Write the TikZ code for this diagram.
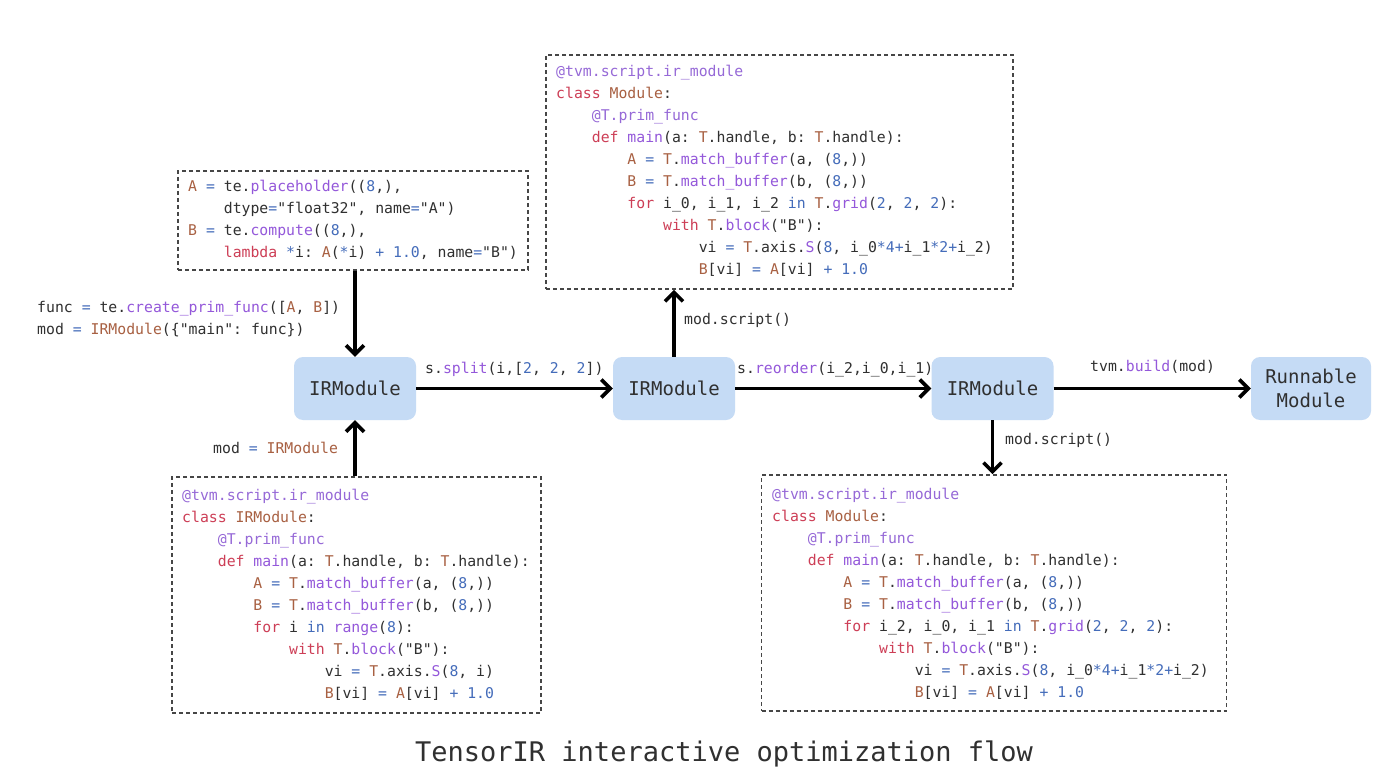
\documentclass[tikz,border=0pt]{standalone}
\usepackage{fontspec}
\usetikzlibrary{arrows.meta}
\newfontfamily\codefont{DejaVu Sans Mono}
\definecolor{kwred}{RGB}{205,62,86}
\definecolor{fnpur}{RGB}{148,88,218}
\definecolor{decpur}{RGB}{150,105,215}
\definecolor{tybrown}{RGB}{168,96,66}
\definecolor{nublue}{RGB}{68,108,186}
\definecolor{txt}{RGB}{48,48,48}
\definecolor{nodefill}{RGB}{197,219,245}
\definecolor{dashgray}{RGB}{70,70,70}
\newcommand\Kw[1]{\textcolor{kwred}{#1}}
\newcommand\Fn[1]{\textcolor{fnpur}{#1}}
\newcommand\De[1]{\textcolor{decpur}{#1}}
\newcommand\Ty[1]{\textcolor{tybrown}{#1}}
\newcommand\Nu[1]{\textcolor{nublue}{#1}}
\newcommand\ind[1]{\hspace*{#1\fontcharwd\font`x}}
\newcommand\fstrut{\rule{0pt}{12pt}}
\tikzset{
  codebox/.style={draw=dashgray, dash pattern=on 4pt off 3pt, line width=1.6pt, inner sep=0pt},
  codetext/.style={anchor=north west, inner sep=0pt, align=left, text=txt,
    font=\codefont\fontsize{14.8}{22}\selectfont\frenchspacing},
  lbl/.style={anchor=base west, inner sep=0pt, text=txt,
    font=\codefont\fontsize{14.8}{22}\selectfont\frenchspacing},
  irmod/.style={fill=nodefill, rounded corners=9pt, minimum width=122pt, minimum height=63pt,
    inner sep=0pt, align=center, text=txt, font=\codefont\fontsize{19}{24}\selectfont},
  arr/.style={line width=3.6pt, -{Straight Barb[length=9pt,width=18pt]}},
}
\begin{document}
\begin{tikzpicture}[x=1pt,y=-1pt]
\useasboundingbox[fill=white] (0,0) rectangle (1394,778);

% dashed code boxes
\node[codebox, minimum width=350pt, minimum height=99pt] (boxA) at (353,220.5) {};
\node[codebox, minimum width=467pt, minimum height=234pt] (boxT) at (779.5,172) {};
\node[codebox, minimum width=369pt, minimum height=236pt] (boxB1) at (356.5,595) {};
\node[codebox, minimum width=465pt, minimum height=236pt] (boxB2) at (994,593) {};

% code texts
\node[codetext] (codeA) at (188,179) {\fstrut\Ty{A} \Nu{=} te.\Fn{placeholder}((\Nu{8},),\\
\ind{4}dtype\Nu{=}"float32", name\Nu{=}"A")\\
\Ty{B} \Nu{=} te.\Fn{compute}((\Nu{8},),\\
\ind{4}\Kw{lambda} \Nu{*}i: \Ty{A}(\Nu{*}i) \Nu{+ 1.0}, name\Nu{=}"B")};

\node[codetext] (codeF) at (37,300) {\fstrut func \Nu{=} te.\Fn{create\_prim\_func}([\Ty{A}, \Ty{B}])\\
mod \Nu{=} \Ty{IRModule}(\{"main": func\})};

\node[codetext] (codeT) at (556,64) {\fstrut\De{@tvm.script.ir\_module}\\
\Kw{class} \Ty{Module}:\\
\ind{4}\De{@T.prim\_func}\\
\ind{4}\Kw{def} \Fn{main}(a: \Ty{T}.handle, b: \Ty{T}.handle):\\
\ind{8}\Ty{A} \Nu{=} \Ty{T}.\Fn{match\_buffer}(a, (\Nu{8},))\\
\ind{8}\Ty{B} \Nu{=} \Ty{T}.\Fn{match\_buffer}(b, (\Nu{8},))\\
\ind{8}\Kw{for} i\_0, i\_1, i\_2 \Nu{in} \Ty{T}.\Fn{grid}(\Nu{2}, \Nu{2}, \Nu{2}):\\
\ind{12}\Kw{with} \Ty{T}.\Fn{block}("B"):\\
\ind{16}vi \Nu{=} \Ty{T}.axis.\Fn{S}(\Nu{8}, i\_0\Nu{*4+}i\_1\Nu{*2+}i\_2)\\
\ind{16}\Ty{B}[vi] \Nu{=} \Ty{A}[vi] \Nu{+ 1.0}};

\node[codetext] (codeB1) at (182,488) {\fstrut\De{@tvm.script.ir\_module}\\
\Kw{class} \Ty{IRModule}:\\
\ind{4}\De{@T.prim\_func}\\
\ind{4}\Kw{def} \Fn{main}(a: \Ty{T}.handle, b: \Ty{T}.handle):\\
\ind{8}\Ty{A} \Nu{=} \Ty{T}.\Fn{match\_buffer}(a, (\Nu{8},))\\
\ind{8}\Ty{B} \Nu{=} \Ty{T}.\Fn{match\_buffer}(b, (\Nu{8},))\\
\ind{8}\Kw{for} i \Nu{in} \Fn{range}(\Nu{8}):\\
\ind{12}\Kw{with} \Ty{T}.\Fn{block}("B"):\\
\ind{16}vi \Nu{=} \Ty{T}.axis.\Fn{S}(\Nu{8}, i)\\
\ind{16}\Ty{B}[vi] \Nu{=} \Ty{A}[vi] \Nu{+ 1.0}};

\node[codetext] (codeB2) at (772,487) {\fstrut\De{@tvm.script.ir\_module}\\
\Kw{class} \Ty{Module}:\\
\ind{4}\De{@T.prim\_func}\\
\ind{4}\Kw{def} \Fn{main}(a: \Ty{T}.handle, b: \Ty{T}.handle):\\
\ind{8}\Ty{A} \Nu{=} \Ty{T}.\Fn{match\_buffer}(a, (\Nu{8},))\\
\ind{8}\Ty{B} \Nu{=} \Ty{T}.\Fn{match\_buffer}(b, (\Nu{8},))\\
\ind{8}\Kw{for} i\_2, i\_0, i\_1 \Nu{in} \Ty{T}.\Fn{grid}(\Nu{2}, \Nu{2}, \Nu{2}):\\
\ind{12}\Kw{with} \Ty{T}.\Fn{block}("B"):\\
\ind{16}vi \Nu{=} \Ty{T}.axis.\Fn{S}(\Nu{8}, i\_0\Nu{*4+}i\_1\Nu{*2+}i\_2)\\
\ind{16}\Ty{B}[vi] \Nu{=} \Ty{A}[vi] \Nu{+ 1.0}};

% module nodes
\node[irmod] (ir1) at (355,388.5) {IRModule};
\node[irmod] (ir2) at (674,388.5) {IRModule};
\node[irmod] (ir3) at (992.5,388.5) {IRModule};
\node[irmod, minimum width=120pt] (run) at (1311,388.5) {Runnable\\Module};

% connectors
\draw[arr] (ir1.north |- boxA.south) -- (ir1.north);
\draw[arr] (ir1.south |- boxB1.north) -- (ir1.south);
\draw[arr] (ir1.east) -- (ir2.west);
\draw[arr] (ir2.north) -- (ir2.north |- boxT.south);
\draw[arr] (ir2.east) -- (ir3.west);
\draw[arr] (ir3.east) -- (run.west);
\draw[arr] (ir3.south) -- (ir3.south |- boxB2.north);

% labels
\node[lbl] (lsplit) at (425,373) {s.\Fn{split}(i,[\Nu{2}, \Nu{2}, \Nu{2}])};
\node[lbl] (lreorder) at (737,373) {s.\Fn{reorder}(i\_2,i\_0,i\_1)};
\node[lbl] (lbuild) at (1090,371) {tvm.\Fn{build}(mod)};
\node[lbl] (lscript1) at (684,324) {mod.script()};
\node[lbl] (lscript2) at (1005,444) {mod.script()};
\node[lbl] (lmod) at (213,453) {mod \Nu{=} \Ty{IRModule}};

% caption
\node[anchor=base west, inner sep=0pt, text=txt, font=\codefont\fontsize{27}{30}\selectfont] (cap) at (415,761) {TensorIR interactive optimization flow};
\end{tikzpicture}
\end{document}
